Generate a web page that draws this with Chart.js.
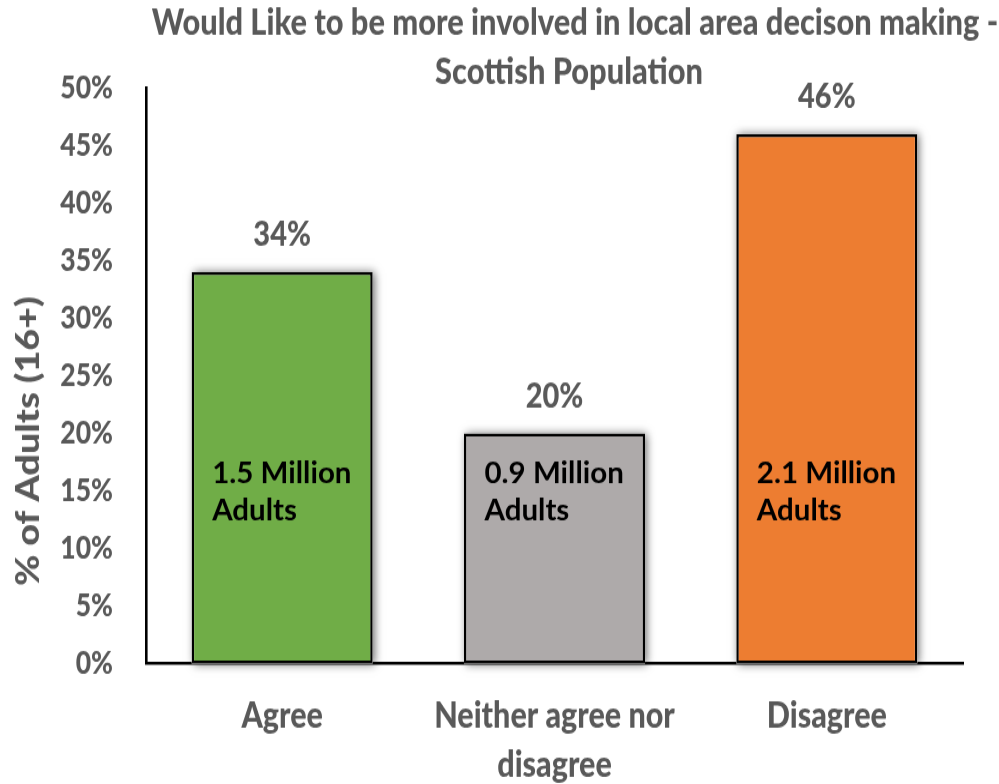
<!DOCTYPE html>
<html>
<head>
<meta charset="utf-8">
<script src="https://cdn.jsdelivr.net/npm/chart.js@4.4.1/dist/chart.umd.min.js"></script>
<style>
  html, body { margin: 0; padding: 0; background: #ffffff; }
  body { width: 999px; height: 784px; }
  /* the chart is laid out on a shorter canvas and stretched to full height,
     which gives the tall, condensed look of the lettering */
  #wrap { width: 999px; height: 654px; transform: scaleY(1.1988); transform-origin: 0 0; }
  canvas { display: block; }
</style>
</head>
<body>
<div id="wrap"><canvas id="chart" width="999" height="654"></canvas></div>
<script>
// Survey categories (x axis), multi-line where the label wraps
const categories = [['Agree'], ['Neither agree nor', 'disagree'], ['Disagree']];
// Share of adults aged 16+ in each response group (%)
const sharePct = [34, 20, 46];
// Estimated number of adults in each group (millions)
const adultsMillion = [1.5, 0.9, 2.1];
// Y axis range and tick step (%)
const yMin = 0, yMax = 50, yStep = 5;

const titleLines = ['Would Like to be more involved in local area decison making -', 'Scottish Population'];
const yAxisTitle = '% of Adults (16+)';

const STRETCH = 1.1988;
const barColors = ['#70AD47', '#AEAAAA', '#ED7D31'];
const GREY_TEXT = '#595959';
const FONT = 'Lato, "Open Sans", sans-serif';

// Soft drop shadow behind each bar (drawn first, bars paint over it)
const barShadow = {
  id: 'barShadow',
  beforeDatasetsDraw(chart) {
    const ctx = chart.ctx;
    const meta = chart.getDatasetMeta(0);
    ctx.save();
    ctx.shadowColor = 'rgba(0,0,0,0.55)';
    ctx.shadowBlur = 8;
    ctx.shadowOffsetX = 2;
    ctx.shadowOffsetY = 0;
    ctx.fillStyle = '#ffffff';
    meta.data.forEach((bar) => {
      const p = bar.getProps(['x', 'y', 'base', 'width'], true);
      ctx.fillRect(p.x - p.width / 2, p.y, p.width, p.base - p.y);
    });
    ctx.restore();
  }
};

// Headline, rotated axis title, value labels and in-bar population labels
const annotations = {
  id: 'annotations',
  afterDraw(chart) {
    const ctx = chart.ctx;
    const area = chart.chartArea;
    ctx.save();

    // headline
    ctx.fillStyle = GREY_TEXT;
    ctx.font = '900 30.8px ' + FONT;
    ctx.textAlign = 'center';
    ctx.textBaseline = 'alphabetic';
    ctx.fillText(titleLines[0], 575, 29);
    ctx.fillText(titleLines[1], 569, 70);

    // y axis title
    ctx.save();
    ctx.translate(39, 368);
    ctx.rotate(-Math.PI / 2);
    ctx.font = '900 31.5px ' + FONT;
    ctx.textAlign = 'center';
    ctx.fillText(yAxisTitle, 0, 0);
    ctx.restore();

    const meta = chart.getDatasetMeta(0);
    meta.data.forEach((bar, i) => {
      // value above the bar
      ctx.fillStyle = GREY_TEXT;
      ctx.font = '900 29px ' + FONT;
      ctx.textAlign = 'center';
      ctx.textBaseline = 'alphabetic';
      ctx.fillText(sharePct[i] + '%', bar.x, bar.y - 22);

      // population estimate inside the bar (undo the vertical stretch)
      ctx.save();
      ctx.fillStyle = '#000000';
      ctx.font = 'bold 29.5px ' + FONT;
      ctx.textAlign = 'left';
      ctx.translate(bar.x - 70, area.bottom - 151);
      ctx.scale(1, 1 / STRETCH);
      ctx.fillText(adultsMillion[i].toFixed(1) + ' Million', 0, 0);
      ctx.fillText('Adults', 0, 38);
      ctx.restore();
    });
    ctx.restore();
  }
};

new Chart(document.getElementById('chart'), {
  type: 'bar',
  data: {
    labels: categories,
    datasets: [{
      data: sharePct,
      backgroundColor: barColors,
      borderColor: '#000000',
      borderWidth: 2.5,
      borderSkipped: false,
      barPercentage: 0.665,
      categoryPercentage: 1.0
    }]
  },
  options: {
    responsive: false,
    animation: false,
    devicePixelRatio: 1,
    layout: { padding: { top: 73.5, right: 36, bottom: 0, left: 0 } },
    plugins: {
      legend: { display: false },
      title: { display: false },
      tooltip: { enabled: false }
    },
    scales: {
      x: {
        grid: { display: false, drawTicks: false },
        border: { display: true, color: '#000000', width: 2.4 },
        ticks: {
          color: GREY_TEXT,
          font: { family: FONT, size: 30.5, weight: 900, lineHeight: 1.35 },
          padding: 23,
          maxRotation: 0,
          autoSkip: false
        },
        afterFit(scale) { scale.height = 100.5; }
      },
      y: {
        min: yMin,
        max: yMax,
        grid: { display: false, drawTicks: false },
        border: { display: true, color: '#000000', width: 2.6 },
        ticks: {
          stepSize: yStep,
          color: GREY_TEXT,
          font: { family: FONT, size: 26.5, weight: 900 },
          padding: 33,
          callback: (v) => v + '%'
        },
        afterFit(scale) { scale.width = 146; }
      }
    }
  },
  plugins: [barShadow, annotations]
});
</script>
</body>
</html>
